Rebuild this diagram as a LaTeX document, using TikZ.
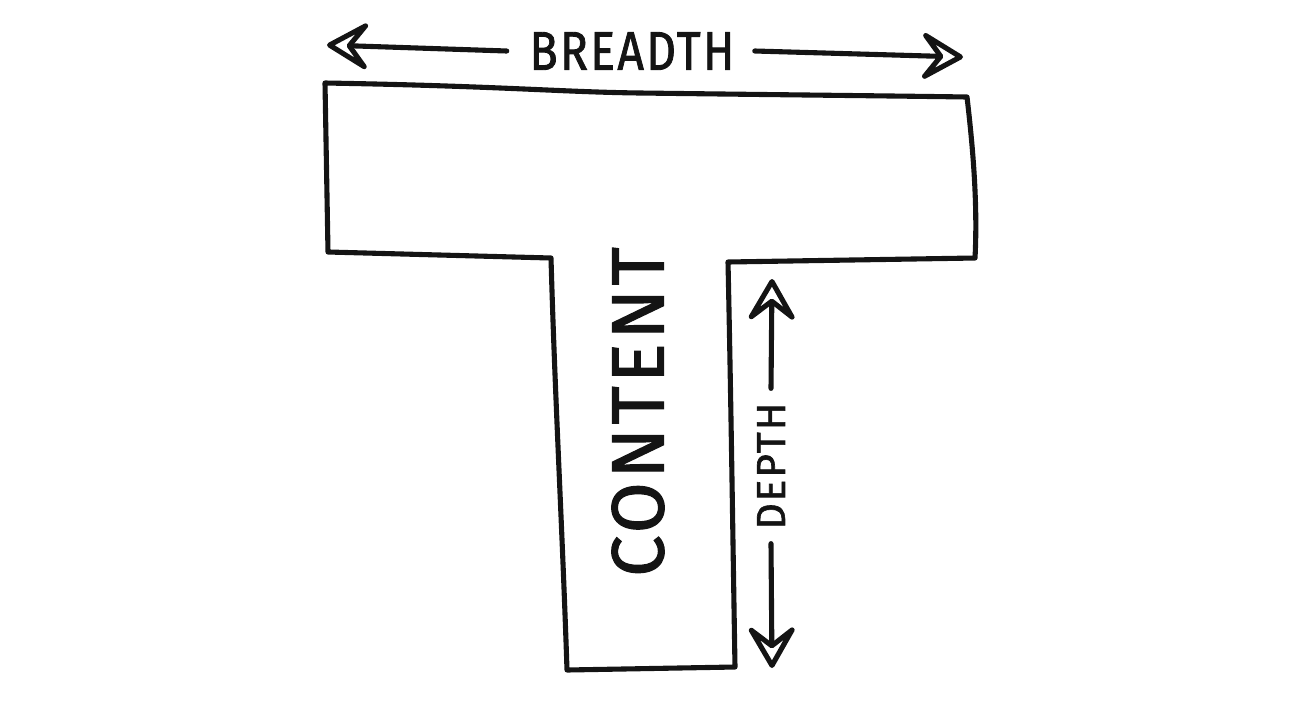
\documentclass[tikz,border=0pt]{standalone}
\usepackage{fontspec}
\setmainfont{Fira Sans}
\newfontfamily\handfont{Fira Sans}[FakeBold=1.6, LetterSpace=5]
\usetikzlibrary{arrows.meta}
\tikzset{
  ink/.style={draw=black!92, line width=2.9pt, line cap=round, line join=round},
  arr/.style={ink, -{Stealth[open, length=1cm, width=1.15cm, inset=0.44cm, round]}},
  lbl/.style={inner sep=0pt, text=black!92, font=\handfont},
}
\begin{document}
\begin{tikzpicture}[x=0.02cm, y=-0.02cm]
\useasboundingbox (0,0) rectangle (1294,714);
% T-shaped outline
\draw[ink] (325,83) .. controls (500,86) and (560,92) .. (640,93)
  .. controls (800,95) and (900,96) .. (967,97)
  .. controls (972,140) and (978,200) .. (975,258)
  -- (728,262) .. controls (731,400) and (733,550) .. (735,667)
  -- (567,670) .. controls (562,520) and (555,400) .. (551,258)
  -- (328,252) -- cycle;
% labels
\node[lbl, xscale=0.85] (breadth) at (632,51) {\fontsize{31}{31}\selectfont BREADTH};
\node[lbl, rotate=90] (content) at (638,412) {\fontsize{42}{42}\selectfont CONTENT};
\node[lbl, rotate=90] (depth) at (771,466) {\fontsize{23}{23}\selectfont DEPTH};
% arrow end points
\coordinate (bl) at (327,45);
\coordinate (br) at (963,57);
\coordinate (dt) at (772,279);
\coordinate (db) at (772,668);
% connectors
\draw[arr] ([xshift=-0.45cm]breadth.west) -- (bl);
\draw[arr] ([xshift=0.4cm]breadth.east) -- (br);
\draw[arr] ([yshift=0.28cm]depth.east) -- (dt);
\draw[arr] ([yshift=-0.28cm]depth.west) -- (db);
\end{tikzpicture}
\end{document}
